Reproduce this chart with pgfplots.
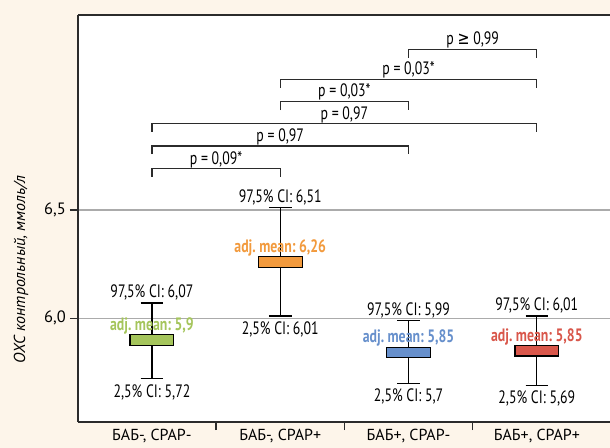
\documentclass[border=0pt]{standalone}
\usepackage{fontspec}
\setmainfont{PT Sans}
\newfontfamily\cond{PT Sans}[FakeStretch=0.77]
\newfontfamily\symf{DejaVu Sans}[FakeStretch=0.8]
\usepackage{pgfplots}
\pgfplotsset{compat=1.18}
\usepgfplotslibrary{statistics}
\definecolor{bg}{HTML}{FDF5EA}
\definecolor{cgreen}{HTML}{A5C55C}
\definecolor{corange}{HTML}{F29A3D}
\definecolor{cblue}{HTML}{6790CC}
\definecolor{cred}{HTML}{D9574B}
\definecolor{axc}{HTML}{2B2B2B}
\definecolor{gridc}{HTML}{ABABAB}
\newcommand{\lab}{\cond\fontsize{18}{21}\selectfont}
\newcommand{\labb}{\cond\bfseries\fontsize{18}{21}\selectfont}
\frenchspacing
\begin{document}
\begin{tikzpicture}
\useasboundingbox[fill=bg] (-78bp,-26bp) rectangle (532bp,422bp);
\begin{axis}[
  at={(0,0)}, anchor=south west,
  scale only axis, width=532bp, height=407bp,
  xmin=-0.576, xmax=3.57, ymin=5.521, ymax=7.40,
  axis background/.style={fill=white},
  axis x line*=bottom, axis y line*=left,
  axis line style={draw=axc, line width=1.2bp},
  tick align=outside,
  boxplot/draw direction=y,
  ytick={6,6.5}, yticklabels={{6,0},{6,5}},
  yticklabel style={font=\fontsize{16.5}{19}\selectfont, inner sep=0pt, xshift=-4bp},
  y tick style={draw=axc, line width=1.2bp}, major tick length=8bp,
  ymajorgrids, grid style={draw=gridc, line width=1.2bp},
  xtick={0.5,1.5,2.5}, xticklabels={},
  x tick style={draw=axc, line width=1.2bp},
  extra x ticks={0,1,2,3},
  extra x tick labels={{БАБ-, CPAP-},{БАБ-, CPAP+},{БАБ+, CPAP-},{БАБ+, CPAP+}},
  extra x tick style={major tick length=0pt, grid=none,
    xticklabel style={font=\fontsize{16}{19}\selectfont, anchor=north, inner sep=0pt, yshift=-7bp}},
  ylabel={ОХС контрольный, ммоль/л},
  ylabel style={font=\itshape\fontsize{16}{19}\selectfont, at={(axis description cs:-0.107,0.375)}, anchor=center, rotate=0},
  clip=false,
]
\draw[axc, line width=1.2bp] (rel axis cs:0,1) -- (rel axis cs:1.02,1);
% boxes
\addplot+[boxplot prepared={lower whisker=5.72, lower quartile=5.876, median=5.924, upper quartile=5.924, upper whisker=6.07, draw position=0, box extend=0.342, whisker extend=0.176}, fill=cgreen, draw=black, line width=1.2bp, solid, mark=none] coordinates {};
\addplot+[boxplot prepared={lower whisker=6.01, lower quartile=6.236, median=6.284, upper quartile=6.284, upper whisker=6.51, draw position=1, box extend=0.342, whisker extend=0.176}, fill=corange, draw=black, line width=1.2bp, solid, mark=none] coordinates {};
\addplot+[boxplot prepared={lower whisker=5.70, lower quartile=5.819, median=5.866, upper quartile=5.866, upper whisker=5.99, draw position=2, box extend=0.342, whisker extend=0.176}, fill=cblue, draw=black, line width=1.2bp, solid, mark=none] coordinates {};
\addplot+[boxplot prepared={lower whisker=5.69, lower quartile=5.826, median=5.874, upper quartile=5.874, upper whisker=6.01, draw position=3, box extend=0.342, whisker extend=0.176}, fill=cred, draw=black, line width=1.2bp, solid, mark=none] coordinates {};
% CI labels
\node[font=\lab, anchor=base, inner sep=0pt, yshift=5.4bp] at (axis cs:0,6.07) {97,5\% CI: 6,07};
\node[font=\lab, anchor=base, inner sep=0pt, yshift=5.4bp] at (axis cs:1,6.51) {97,5\% CI: 6,51};
\node[font=\lab, anchor=base, inner sep=0pt, yshift=5.4bp] at (axis cs:2,5.99) {97,5\% CI: 5,99};
\node[font=\lab, anchor=base, inner sep=0pt, yshift=5.4bp] at (axis cs:3,6.01) {97,5\% CI: 6,01};
\node[font=\lab, anchor=base, inner sep=0pt, yshift=-18.5bp] at (axis cs:0,5.72) {2,5\% CI: 5,72};
\node[font=\lab, anchor=base, inner sep=0pt, yshift=-18.5bp] at (axis cs:1,6.01) {2,5\% CI: 6,01};
\node[font=\lab, anchor=base, inner sep=0pt, yshift=-18.5bp] at (axis cs:2,5.70) {2,5\% CI: 5,7};
\node[font=\lab, anchor=base, inner sep=0pt, yshift=-18.5bp] at (axis cs:3,5.69) {2,5\% CI: 5,69};
% mean labels
\node[font=\labb, text=cgreen, anchor=base, inner sep=0pt, yshift=4.5bp] at (axis cs:0,5.924) {adj. mean: 5,9};
\node[font=\labb, text=corange, anchor=base, inner sep=0pt, yshift=4.5bp] at (axis cs:1,6.284) {adj. mean: 6,26};
\node[font=\labb, text=cblue, anchor=base, inner sep=0pt, yshift=4.5bp] at (axis cs:2,5.866) {adj. mean: 5,85};
\node[font=\labb, text=cred, anchor=base, inner sep=0pt, yshift=4.5bp] at (axis cs:3,5.874) {adj. mean: 5,85};
% brackets
\addplot[axc, line width=1.2bp] coordinates {(0,6.653) (0,6.690) (1,6.690) (1,6.653)};
\addplot[axc, line width=1.2bp] coordinates {(0,6.758) (0,6.795) (2,6.795) (2,6.758)};
\addplot[axc, line width=1.2bp] coordinates {(0,6.860) (0,6.898) (3,6.898) (3,6.860)};
\addplot[axc, line width=1.2bp] coordinates {(1,6.961) (1,7.001) (2,7.001) (2,6.961)};
\addplot[axc, line width=1.2bp] coordinates {(1,7.064) (1,7.103) (3,7.103) (3,7.064)};
\addplot[axc, line width=1.2bp] coordinates {(2,7.203) (2,7.241) (3,7.241) (3,7.203)};
\node[font=\lab, anchor=base, inner sep=0pt, yshift=4.5bp] at (axis cs:0.5,6.690) {p = 0,09*};
\node[font=\lab, anchor=base, inner sep=0pt, yshift=4.5bp] at (axis cs:1.0,6.795) {p = 0,97};
\node[font=\lab, anchor=base, inner sep=0pt, yshift=4.5bp] at (axis cs:1.5,6.898) {p = 0,97};
\node[font=\lab, anchor=base, inner sep=0pt, yshift=4.5bp] at (axis cs:1.5,7.001) {p = 0,03*};
\node[font=\lab, anchor=base, inner sep=0pt, yshift=4.5bp] at (axis cs:2.0,7.103) {p = 0,03*};
\node[font=\lab, anchor=base, inner sep=0pt, yshift=4.5bp] at (axis cs:2.5,7.241) {p {\symf ≥} 0,99};
\end{axis}
\end{tikzpicture}
\end{document}
